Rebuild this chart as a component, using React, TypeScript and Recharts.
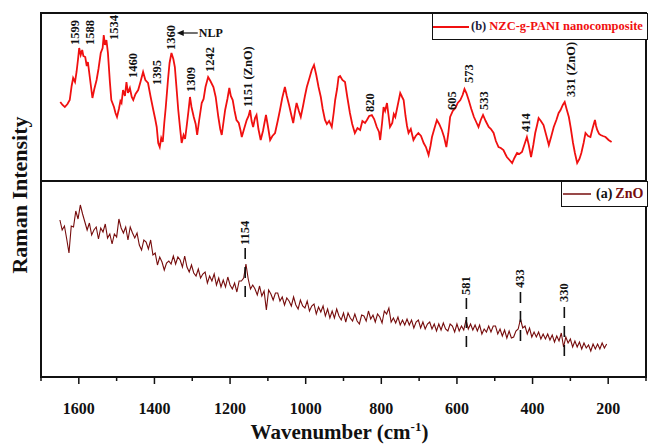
import React from 'react';
import {
  LineChart, Line, XAxis, YAxis, ReferenceArea, ReferenceLine, ReferenceDot, Legend,
} from 'recharts';

const SERIF = '"Liberation Serif", "Times New Roman", Times, serif';
const INK = '#111';
const RED = '#f01010';
const MAROON = '#760c0c';

// (b) NZC-g-PANI nanocomposite
const PANI_WN = [
  1649, 1643, 1637, 1630, 1624, 1619, 1615, 1610, 1606, 1602,
  1599, 1595, 1591, 1588, 1583, 1579, 1576, 1570, 1564, 1559,
  1553, 1548, 1542, 1537, 1534, 1531, 1527, 1523, 1518, 1514,
  1507, 1503, 1499, 1494, 1490, 1487, 1483, 1478, 1474, 1470,
  1465, 1460, 1456, 1450, 1443, 1437, 1430, 1424, 1417, 1410,
  1403, 1398, 1394, 1390, 1386, 1382, 1378, 1374, 1370, 1364,
  1360, 1355, 1350, 1346, 1342, 1337, 1332, 1328, 1323, 1319,
  1315, 1310, 1306, 1302, 1296, 1291, 1287, 1282, 1275, 1270,
  1265, 1258, 1252, 1244, 1238, 1231, 1226, 1222, 1217, 1213,
  1207, 1202, 1198, 1193, 1188, 1183, 1177, 1172, 1169, 1163,
  1156, 1151, 1147, 1143, 1139, 1134, 1130, 1125, 1119, 1113,
  1109, 1105, 1100, 1094, 1088, 1081, 1074, 1068, 1062, 1055,
  1050, 1044, 1038, 1033, 1028, 1024, 1018, 1013, 1007, 1002,
  997, 990, 984, 978, 972, 966, 960, 955, 949, 944,
  938, 931, 926, 922, 917, 913, 909, 903, 896, 890,
  883, 877, 870, 863, 856, 850, 843, 838, 832, 825,
  819, 812, 806, 803, 798, 794, 790, 785, 781, 777,
  771, 767, 763, 757, 750, 745, 741, 736, 732, 728,
  722, 715, 709, 702, 695, 688, 682, 675, 670, 666,
  660, 653, 647, 640, 634, 628, 623, 618, 611, 604,
  598, 591, 585, 580, 575, 569, 562, 555, 549, 543,
  537, 531, 524, 516, 510, 503, 497, 490, 484, 477,
  472, 468, 461, 454, 448, 441, 435, 428, 421, 415,
  410, 404, 398, 393, 388, 384, 378, 371, 364, 357,
  351, 344, 337, 331, 326, 320, 315, 310, 304, 299,
  293, 288, 282, 276, 271, 265, 260, 253, 247, 241,
  235, 232, 229, 224, 220, 214, 207, 199, 191,
];
const PANI_INT = [
  79, 76, 74, 77, 81, 95, 103, 99, 109, 122,
  133, 126, 131, 125, 124, 115, 119, 101, 83, 92,
  101, 112, 128, 133, 146, 136, 141, 128, 100, 81,
  74, 68, 64, 72, 80, 78, 91, 85, 99, 88,
  93, 84, 81, 87, 91, 99, 109, 101, 98, 84,
  71, 62, 54, 38, 34, 43, 39, 58, 74, 102,
  118, 128, 122, 114, 95, 71, 52, 38, 46, 42,
  54, 70, 84, 74, 64, 57, 46, 60, 78, 82,
  94, 104, 100, 94, 84, 64, 52, 46, 60, 71,
  82, 93, 85, 81, 70, 61, 58, 50, 44, 52,
  61, 65, 71, 60, 54, 63, 66, 52, 41, 50,
  58, 66, 55, 41, 45, 48, 60, 71, 83, 94,
  85, 76, 66, 58, 70, 78, 70, 64, 75, 85,
  94, 103, 111, 116, 106, 94, 84, 72, 61, 57,
  60, 54, 68, 81, 92, 104, 105, 101, 99, 84,
  68, 57, 48, 53, 51, 60, 58, 61, 65, 66,
  62, 54, 49, 41, 58, 74, 70, 78, 66, 54,
  58, 67, 64, 75, 88, 84, 81, 65, 55, 48,
  52, 41, 45, 48, 45, 38, 34, 26, 35, 44,
  52, 61, 57, 51, 44, 34, 47, 64, 70, 73,
  78, 81, 86, 92, 88, 81, 72, 64, 59, 54,
  61, 66, 60, 54, 52, 48, 40, 34, 33, 31,
  27, 24, 21, 18, 23, 28, 27, 29, 37, 44,
  36, 24, 36, 48, 56, 63, 60, 56, 46, 36,
  44, 54, 61, 68, 71, 76, 79, 72, 64, 53,
  38, 28, 18, 22, 28, 38, 48, 45, 44, 53,
  61, 55, 51, 47, 46, 45, 44, 41, 39,
];

// (a) ZnO
const ZNO_WN = [
  1650, 1644, 1638, 1632, 1626, 1620, 1614, 1608, 1602, 1596, 1590, 1584,
  1578, 1572, 1566, 1560, 1554, 1548, 1542, 1536, 1530, 1524, 1518, 1512,
  1506, 1500, 1494, 1488, 1482, 1476, 1470, 1464, 1458, 1452, 1446, 1440,
  1434, 1428, 1422, 1416, 1410, 1404, 1398, 1392, 1386, 1380, 1374, 1368,
  1362, 1356, 1350, 1344, 1338, 1332, 1326, 1320, 1314, 1308, 1302, 1296,
  1290, 1284, 1278, 1272, 1266, 1260, 1254, 1248, 1242, 1236, 1230, 1224,
  1218, 1212, 1206, 1200, 1194, 1188, 1182, 1176, 1170, 1164, 1158, 1152,
  1146, 1140, 1134, 1128, 1122, 1116, 1110, 1104, 1098, 1092, 1086, 1080,
  1074, 1068, 1062, 1056, 1050, 1044, 1038, 1032, 1026, 1020, 1014, 1008,
  1002, 996, 990, 984, 978, 972, 966, 960, 954, 948, 942, 936,
  930, 924, 918, 912, 906, 900, 894, 888, 882, 876, 870, 864,
  858, 852, 846, 840, 834, 828, 822, 816, 810, 804, 798, 792,
  786, 780, 774, 768, 762, 756, 750, 744, 738, 732, 726, 720,
  714, 708, 702, 696, 690, 684, 678, 672, 666, 660, 654, 648,
  642, 636, 630, 624, 618, 612, 606, 600, 594, 588, 582, 576,
  570, 564, 558, 552, 546, 540, 534, 528, 522, 516, 510, 504,
  498, 492, 486, 480, 474, 468, 462, 456, 450, 444, 438, 432,
  426, 420, 414, 408, 402, 396, 390, 384, 378, 372, 366, 360,
  354, 348, 342, 336, 330, 324, 318, 312, 306, 300, 294, 288,
  282, 276, 270, 264, 258, 252, 246, 240, 234, 228, 222, 216,
  210, 204,
];
const ZNO_INT = [
  157, 147, 151, 138, 124, 151, 150, 166, 158, 172, 163, 155,
  147, 154, 142, 147, 150, 138, 149, 145, 153, 139, 143, 133,
  143, 140, 158, 149, 144, 150, 137, 150, 144, 139, 144, 132,
  127, 137, 135, 128, 137, 122, 124, 112, 120, 115, 107, 114,
  116, 113, 121, 113, 120, 117, 110, 121, 110, 105, 112, 104,
  101, 108, 99, 103, 105, 94, 101, 96, 103, 92, 99, 90,
  97, 90, 100, 92, 88, 94, 85, 96, 96, 99, 113, 98,
  88, 92, 88, 82, 91, 81, 86, 67, 87, 83, 77, 84,
  84, 76, 80, 72, 79, 76, 71, 80, 72, 68, 77, 71,
  69, 76, 66, 71, 73, 63, 70, 65, 71, 61, 68, 59,
  66, 59, 68, 61, 57, 64, 55, 64, 59, 56, 63, 56,
  53, 62, 61, 56, 66, 58, 62, 55, 63, 60, 54, 66,
  63, 69, 55, 59, 54, 60, 52, 57, 52, 58, 52, 57,
  49, 55, 57, 49, 55, 48, 53, 55, 48, 53, 46, 53,
  47, 54, 48, 46, 53, 51, 45, 53, 46, 51, 47, 57,
  48, 53, 47, 52, 46, 52, 43, 48, 45, 51, 45, 51,
  51, 43, 48, 41, 47, 39, 46, 39, 40, 46, 48, 58,
  49, 51, 43, 49, 40, 45, 40, 45, 38, 43, 38, 43,
  37, 42, 35, 41, 36, 44, 30, 40, 34, 38, 30, 36,
  30, 35, 28, 34, 29, 32, 26, 33, 28, 33, 28, 34,
  29, 33,
];

const X_TICKS = [1700, 1600, 1500, 1400, 1300, 1200, 1100, 1000, 900, 800, 700, 600, 500, 400, 300, 200, 100];

const PANI_PEAKS = ['1599', '1588', '1534', '1460', '1395', '1360', '1309', '1242', '1151 (ZnO)', '820', '605', '573', '533', '414', '331 (ZnO)'];
const PANI_PEAK_WN = [1611, 1571, 1507, 1457, 1394, 1357, 1304, 1253, 1153, 830, 612, 567, 528, 417, 299];
const PANI_PEAK_Y = [136, 136, 141, 103, 96, 131, 89, 109, 74, 69, 71, 98, 71, 49, 84];

const ZNO_PEAKS = ['1154', '581', '433', '330'];
const ZNO_PEAK_WN = [1160, 575, 432, 316];
const ZNO_PEAK_Y = [132, 82, 89, 75];
const ZNO_DASH_TOP = [129, 79, 85, 70];
const ZNO_DASH_BOTTOM = [74, 25, 30, 15];

const paniRows = PANI_WN.map((w, i) => ({ w, v: PANI_INT[i] }));
const znoRows = ZNO_WN.map((w, i) => ({ w, v: ZNO_INT[i] }));

function WaveTick(props: any) {
  const { x, y, payload } = props;
  const major = payload.value % 200 === 0;
  return (
    <g>
      <line x1={x} x2={x} y1={y} y2={y + (major ? 7 : 4)} stroke={INK} strokeWidth={1.5} />
      {major && (
        <text x={x} y={y + 37} textAnchor="middle" fontFamily={SERIF} fontWeight={700} fontSize={16} fill={INK}>
          {payload.value}
        </text>
      )}
    </g>
  );
}

function WaveTitle(props: any) {
  const { viewBox } = props;
  const cx = viewBox.x + viewBox.width / 2 - 4;
  return (
    <text x={cx} y={viewBox.y + 62} textAnchor="middle" fontFamily={SERIF} fontWeight={700} fontSize={21} fill={INK}>
      <tspan>Wavenumber (cm</tspan>
      <tspan dy={-8} fontSize={13}>-1</tspan>
      <tspan dy={8}>)</tspan>
    </text>
  );
}

function RamanTitle(props: any) {
  const { viewBox } = props;
  const x = 27;
  const y = viewBox.y + viewBox.height / 2;
  return (
    <text x={x} y={y} transform={`rotate(-90 ${x} ${y})`} textAnchor="middle" fontFamily={SERIF} fontWeight={700} fontSize={22} fill={INK}>
      Raman Intensity
    </text>
  );
}

function Upright(props: any) {
  const { viewBox, text } = props;
  const cx = viewBox.x + viewBox.width / 2;
  const cy = viewBox.y + viewBox.height / 2;
  return (
    <text x={cx} y={cy} transform={`rotate(-90 ${cx} ${cy})`} dominantBaseline="central" fontFamily={SERIF} fontWeight={700} fontSize={12.5} fill={INK}>
      {text}
    </text>
  );
}

function NlpArrow(props: any) {
  const { viewBox } = props;
  const x = viewBox.x + viewBox.width / 2;
  const y = viewBox.y + viewBox.height / 2;
  return (
    <g>
      <line x1={x + 5} x2={x + 21} y1={y} y2={y} stroke={INK} strokeWidth={1.2} />
      <polygon points={`${x},${y} ${x + 7},${y - 3} ${x + 7},${y + 3}`} fill={INK} />
      <text x={x + 22} y={y} dominantBaseline="central" fontFamily={SERIF} fontWeight={700} fontSize={12} fill={INK}>NLP</text>
    </g>
  );
}

function LegendBoxes() {
  const box: React.CSSProperties = {
    position: 'absolute', boxSizing: 'border-box', border: `1.5px solid ${INK}`, background: '#fff',
    display: 'flex', alignItems: 'center', fontFamily: SERIF, fontWeight: 700, whiteSpace: 'nowrap', overflow: 'hidden',
  };
  return (
    <div style={{ position: 'relative', width: 648, height: 444, pointerEvents: 'none' }}>
      <div style={{ ...box, left: 432, top: 13, width: 216, height: 27, fontSize: 12.5 }}>
        <svg width={36} height={6} style={{ marginRight: 2 }}>
          <line x1={0} x2={36} y1={3} y2={3} stroke={RED} strokeWidth={2} />
        </svg>
        <span style={{ color: '#1c1c3a' }}>(b)</span>
        <span style={{ color: RED, marginLeft: 3 }}>NZC-g-PANI nanocomposite</span>
      </div>
      <div style={{ ...box, left: 561, top: 181, width: 87, height: 26, fontSize: 14 }}>
        <svg width={28} height={6} style={{ marginLeft: 1, marginRight: 5 }}>
          <line x1={0} x2={28} y1={3} y2={3} stroke={MAROON} strokeWidth={1.5} />
        </svg>
        <span style={{ color: INK }}>(a)</span>
        <span style={{ color: MAROON, marginLeft: 3 }}>ZnO</span>
      </div>
    </div>
  );
}

export default function App() {
  return (
    <div style={{ position: 'absolute', left: 0, top: 0, background: '#fff' }}>
      <LineChart width={648} height={444} margin={{ top: 13, right: 2, bottom: 7, left: 0 }}>
        <XAxis
          type="number"
          dataKey="w"
          domain={[100, 1700]}
          reversed
          allowDataOverflow
          ticks={X_TICKS}
          interval={0}
          axisLine={false}
          tickLine={false}
          tickSize={0}
          tickMargin={0}
          height={60}
          tick={(p: any) => <WaveTick {...p} />}
          label={<WaveTitle />}
        />
        <YAxis
          yAxisId="bot"
          type="number"
          domain={[0, 364]}
          allowDataOverflow
          width={41}
          tick={false}
          axisLine={false}
          tickLine={false}
          label={<RamanTitle />}
        />
        <YAxis yAxisId="top" type="number" domain={[-196, 168]} allowDataOverflow hide />
        <Legend
          layout="horizontal"
          verticalAlign="middle"
          align="center"
          content={() => <LegendBoxes />}
          wrapperStyle={{ left: 0, top: 0, width: 648, height: 444, pointerEvents: 'none' }}
        />
        <Line
          yAxisId="top"
          data={paniRows}
          dataKey="v"
          name="(b) NZC-g-PANI nanocomposite"
          stroke={RED}
          strokeWidth={1.8}
          dot={false}
          isAnimationActive={false}
        />
        <Line
          yAxisId="bot"
          data={znoRows}
          dataKey="v"
          name="(a) ZnO"
          stroke={MAROON}
          strokeWidth={1.1}
          dot={false}
          isAnimationActive={false}
        />
        {ZNO_PEAKS.map((t, i) => (
          <ReferenceLine
            key={`d${t}`}
            yAxisId="bot"
            segment={[{ x: ZNO_PEAK_WN[i], y: ZNO_DASH_TOP[i] }, { x: ZNO_PEAK_WN[i], y: ZNO_DASH_BOTTOM[i] }]}
            stroke={INK}
            strokeWidth={1.6}
            strokeDasharray="11 8"
          />
        ))}
        {ZNO_PEAKS.map((t, i) => (
          <ReferenceDot key={`z${t}`} yAxisId="bot" x={ZNO_PEAK_WN[i]} y={ZNO_PEAK_Y[i]} r={0} fill="none" stroke="none" label={<Upright text={t} />} />
        ))}
        {PANI_PEAKS.map((t, i) => (
          <ReferenceDot key={`p${t}`} yAxisId="top" x={PANI_PEAK_WN[i]} y={PANI_PEAK_Y[i]} r={0} fill="none" stroke="none" label={<Upright text={t} />} />
        ))}
        <ReferenceDot yAxisId="top" x={1341} y={148} r={0} fill="none" stroke="none" label={<NlpArrow />} />
        <ReferenceArea yAxisId="top" x1={1700} x2={100} y1={0} y2={168} fill="none" stroke={INK} strokeWidth={2} />
        <ReferenceArea yAxisId="bot" x1={1700} x2={100} y1={0} y2={196} fill="none" stroke={INK} strokeWidth={2} />
      </LineChart>
    </div>
  );
}
